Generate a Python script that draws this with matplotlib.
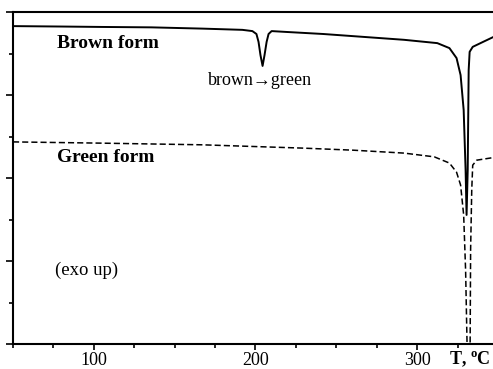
import matplotlib.pyplot as plt
from matplotlib.ticker import MultipleLocator, FixedLocator

plt.rcParams['font.family'] = ['Liberation Serif', 'DejaVu Serif']
plt.rcParams['mathtext.fontset'] = 'custom'
plt.rcParams['mathtext.rm'] = 'Liberation Serif'
plt.rcParams['mathtext.bf'] = 'Liberation Serif:bold'

# DSC traces (temperature, heat flow in arbitrary units)
brown_T = [50, 79.4, 104.4, 135.6, 166.9, 191.9, 198.1, 200.6, 201.9, 203.1,
           204.4, 205.6, 206.9, 208.1, 210, 218.8, 241.9, 266.9, 291.9, 312.5,
           320, 324.4, 326.9, 328.8, 330, 330.6, 331.3, 331.9, 332.5, 334.4,
           341.9, 350]
brown_y = [7.66, 7.65, 7.64, 7.63, 7.60, 7.57, 7.54, 7.47, 7.28, 6.96,
           6.70, 6.96, 7.28, 7.47, 7.54, 7.52, 7.47, 7.40, 7.33, 7.25,
           7.13, 6.89, 6.48, 5.64, 4.19, 3.11, 4.19, 6.60, 7.04, 7.16,
           7.30, 7.45]

green_T = [50, 104.4, 166.9, 198.1, 229.4, 260.6, 291.9, 310.6, 320, 324.4,
           326.9, 328.8, 330, 330.9, 331.9, 332.8, 333.1, 333.8, 334.4, 336.9,
           341.9, 350]
green_y = [4.87, 4.84, 4.80, 4.76, 4.72, 4.67, 4.60, 4.51, 4.36, 4.14,
           3.83, 3.11, 1.78, 0.0, -1.0, 0.0, 2.27, 3.71, 4.31, 4.43,
           4.46, 4.51]

x_ticks = [100, 200, 300]

fig = plt.figure(figsize=(4.93, 3.69), dpi=100)
ax = fig.add_axes([13 / 493, 1 - 344 / 369, 1 - 13 / 493 + 0.01, (344 - 12) / 369])

ax.plot(brown_T, brown_y, color='black', linewidth=1.4)
ax.plot(green_T, green_y, color='black', linewidth=1.1, linestyle=(0, (4, 2)))

ax.set_xlim(50, 350)
ax.set_ylim(0, 8)

ax.xaxis.set_major_locator(FixedLocator(x_ticks))
ax.xaxis.set_minor_locator(MultipleLocator(25))
ax.yaxis.set_major_locator(MultipleLocator(2))
ax.yaxis.set_minor_locator(MultipleLocator(1))
ax.set_yticklabels([])
ax.tick_params(axis='both', which='both', direction='out', width=1.2, labelsize=13)
ax.tick_params(axis='x', which='major', length=4, pad=2)
ax.tick_params(axis='x', which='minor', length=3)
ax.tick_params(axis='y', which='major', length=5)
ax.tick_params(axis='y', which='minor', length=3)

for side in ['left', 'bottom', 'top']:
    ax.spines[side].set_linewidth(1.5)
ax.spines['right'].set_visible(False)

# annotations
ax.text(77.5, 7.25, 'Brown form', fontsize=14, fontweight='bold', va='center')
ax.text(203, 6.36, 'brown\u2192green', fontsize=13, va='center', ha='center')
ax.text(77.5, 4.5, 'Green form', fontsize=14, fontweight='bold', va='center')
ax.text(76, 1.78, '(exo up)', fontsize=13.5, va='center')
fig.text(470 / 493, 1 - 359 / 369, r'T, $^{\mathbf{o}}$C', fontsize=13,
         fontweight='bold', ha='center', va='center')

fig.savefig('out.png', dpi=100)
